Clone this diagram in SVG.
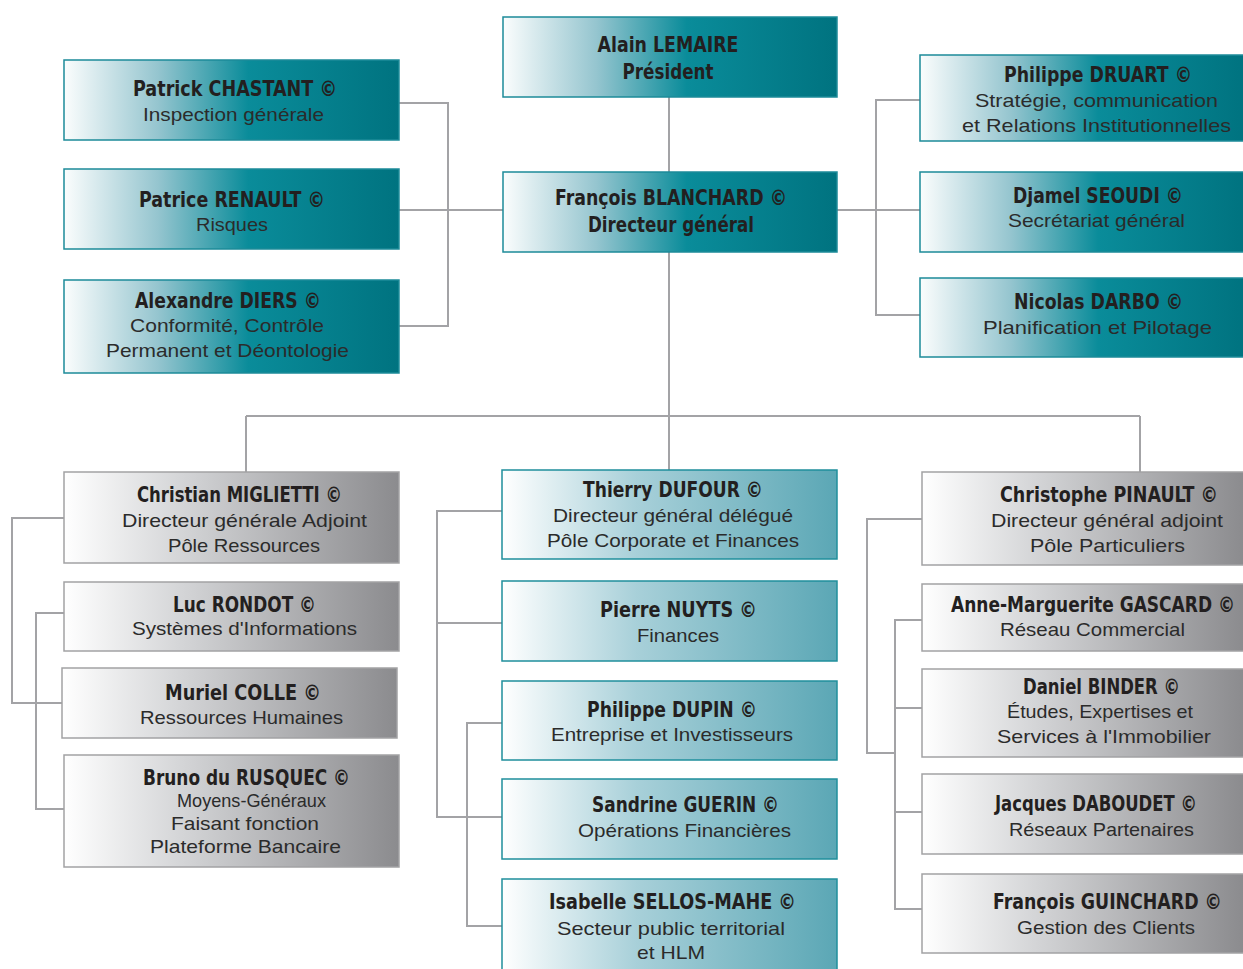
<svg xmlns="http://www.w3.org/2000/svg" width="1243" height="969" viewBox="0 0 1243 969">
  <defs>
    <linearGradient id="gDark" x1="0" y1="0" x2="1" y2="0">
      <stop offset="0" stop-color="#fbfdfd"/>
      <stop offset="0.28" stop-color="#95c5cf"/>
      <stop offset="0.55" stop-color="#0a8c9a"/>
      <stop offset="1" stop-color="#007380"/>
    </linearGradient>
    <linearGradient id="gLight" x1="0" y1="0" x2="1" y2="0">
      <stop offset="0" stop-color="#ffffff"/>
      <stop offset="0.4" stop-color="#a8d0d9"/>
      <stop offset="1" stop-color="#5ba7b5"/>
    </linearGradient>
    <linearGradient id="gGray" x1="0" y1="0" x2="1" y2="0">
      <stop offset="0" stop-color="#ffffff"/>
      <stop offset="0.35" stop-color="#d4d5d7"/>
      <stop offset="1" stop-color="#8b8b8e"/>
    </linearGradient>
    <style>
      .dark { fill: url(#gDark); stroke: #1d8b99; stroke-width: 1.5; }
      .light { fill: url(#gLight); stroke: #1f8f9c; stroke-width: 1.5; }
      .gray { fill: url(#gGray); stroke: #a2a2a4; stroke-width: 1.5; }
      .name { font-family: "Liberation Sans Narrow", "DejaVu Sans Condensed", "Liberation Sans", sans-serif; font-weight: bold; font-size: 22px; fill: #231f20; text-anchor: middle; }
      .sub { font-family: "Liberation Sans", "DejaVu Sans", sans-serif; font-size: 19px; fill: #2b2b2b; text-anchor: middle; }
      .links path { fill: none; stroke: #a3a3a6; stroke-width: 2; }
    </style>
  </defs>

  <rect width="1243" height="969" fill="#ffffff"/>

  <!-- connectors -->
  <g class="links">
    <path d="M669 97 V172"/>
    <path d="M669 252 V416"/>
    <path d="M246 416 H1140"/>
    <path d="M246 416 V472 M669 416 V470 M1140 416 V472"/>
    <path d="M399 103 H448 V326 H399 M399 210 H503"/>
    <path d="M920 100 H876 V315 H920 M837 210 H920"/>
    <path d="M64 518 H12 V703 H62 M64 613 H36 V809 H64"/>
    <path d="M502 511 H437 V817 H502 M437 623 H502 M502 723 H467 V926 H502"/>
    <path d="M922 519 H867 V753 H895 M922 620 H895 V909 H922 M895 708 H922 M895 812 H922"/>
  </g>

  <!-- top row -->
  <g id="lemaire">
    <rect class="dark" x="503" y="17" width="334" height="80"/>
    <text class="name" x="668" y="52" textLength="141" lengthAdjust="spacingAndGlyphs">Alain LEMAIRE</text>
    <text class="name" x="668" y="79" textLength="91" lengthAdjust="spacingAndGlyphs">Président</text>
  </g>
  <g id="blanchard">
    <rect class="dark" x="503" y="172" width="334" height="80"/>
    <text class="name" x="671" y="205" textLength="232" lengthAdjust="spacingAndGlyphs">François BLANCHARD ©</text>
    <text class="name" x="671" y="232" textLength="166" lengthAdjust="spacingAndGlyphs">Directeur général</text>
  </g>

  <g id="chastant">
    <rect class="dark" x="64" y="60" width="335" height="80"/>
    <text class="name" x="235" y="96" textLength="204" lengthAdjust="spacingAndGlyphs">Patrick CHASTANT ©</text>
    <text class="sub" x="233.5" y="121" textLength="181" lengthAdjust="spacingAndGlyphs">Inspection générale</text>
  </g>
  <g id="renault">
    <rect class="dark" x="64" y="169" width="335" height="80"/>
    <text class="name" x="232" y="207" textLength="186" lengthAdjust="spacingAndGlyphs">Patrice RENAULT ©</text>
    <text class="sub" x="232" y="231" textLength="72" lengthAdjust="spacingAndGlyphs">Risques</text>
  </g>
  <g id="diers">
    <rect class="dark" x="64" y="280" width="335" height="93"/>
    <text class="name" x="228" y="308" textLength="186" lengthAdjust="spacingAndGlyphs">Alexandre DIERS ©</text>
    <text class="sub" x="227" y="332" textLength="194" lengthAdjust="spacingAndGlyphs">Conformité, Contrôle</text>
    <text class="sub" x="227.5" y="357" textLength="243" lengthAdjust="spacingAndGlyphs">Permanent et Déontologie</text>
  </g>

  <g id="druart">
    <rect class="dark" x="920" y="55" width="324" height="86"/>
    <text class="name" x="1098" y="82" textLength="188" lengthAdjust="spacingAndGlyphs">Philippe DRUART ©</text>
    <text class="sub" x="1096.5" y="107" textLength="243" lengthAdjust="spacingAndGlyphs">Stratégie, communication</text>
    <text class="sub" x="1096.5" y="132" textLength="269" lengthAdjust="spacingAndGlyphs">et Relations Institutionnelles</text>
  </g>
  <g id="seoudi">
    <rect class="dark" x="920" y="172" width="324" height="80"/>
    <text class="name" x="1098" y="203" textLength="170" lengthAdjust="spacingAndGlyphs">Djamel SEOUDI ©</text>
    <text class="sub" x="1096.5" y="227" textLength="177" lengthAdjust="spacingAndGlyphs">Secrétariat général</text>
  </g>
  <g id="darbo">
    <rect class="dark" x="920" y="278" width="324" height="79"/>
    <text class="name" x="1098.5" y="309" textLength="169" lengthAdjust="spacingAndGlyphs">Nicolas DARBO ©</text>
    <text class="sub" x="1097.5" y="334" textLength="229" lengthAdjust="spacingAndGlyphs">Planification et Pilotage</text>
  </g>

  <!-- left column -->
  <g id="miglietti">
    <rect class="gray" x="64" y="472" width="335" height="91"/>
    <text class="name" x="239.5" y="502" textLength="205" lengthAdjust="spacingAndGlyphs">Christian MIGLIETTI ©</text>
    <text class="sub" x="244.5" y="527" textLength="245" lengthAdjust="spacingAndGlyphs">Directeur générale Adjoint</text>
    <text class="sub" x="244" y="552" textLength="152" lengthAdjust="spacingAndGlyphs">Pôle Ressources</text>
  </g>
  <g id="rondot">
    <rect class="gray" x="64" y="582" width="335" height="69"/>
    <text class="name" x="244.5" y="612" textLength="143" lengthAdjust="spacingAndGlyphs">Luc RONDOT ©</text>
    <text class="sub" x="244.5" y="635" textLength="225" lengthAdjust="spacingAndGlyphs">Systèmes d'Informations</text>
  </g>
  <g id="colle">
    <rect class="gray" x="62" y="668" width="335" height="70"/>
    <text class="name" x="243" y="700" textLength="156" lengthAdjust="spacingAndGlyphs">Muriel COLLE ©</text>
    <text class="sub" x="241.5" y="724" textLength="203" lengthAdjust="spacingAndGlyphs">Ressources Humaines</text>
  </g>
  <g id="rusquec">
    <rect class="gray" x="64" y="755" width="335" height="112"/>
    <text class="name" x="246.5" y="785" textLength="207" lengthAdjust="spacingAndGlyphs">Bruno du RUSQUEC ©</text>
    <text class="sub" x="251.5" y="807" textLength="149" lengthAdjust="spacingAndGlyphs">Moyens-Généraux</text>
    <text class="sub" x="245" y="830" textLength="148" lengthAdjust="spacingAndGlyphs">Faisant fonction</text>
    <text class="sub" x="245.5" y="853" textLength="191" lengthAdjust="spacingAndGlyphs">Plateforme Bancaire</text>
  </g>

  <!-- middle column -->
  <g id="dufour">
    <rect class="light" x="502" y="470" width="335" height="89"/>
    <text class="name" x="673" y="497" textLength="180" lengthAdjust="spacingAndGlyphs">Thierry DUFOUR ©</text>
    <text class="sub" x="673" y="522" textLength="240" lengthAdjust="spacingAndGlyphs">Directeur général délégué</text>
    <text class="sub" x="673" y="547" textLength="252" lengthAdjust="spacingAndGlyphs">Pôle Corporate et Finances</text>
  </g>
  <g id="nuyts">
    <rect class="light" x="502" y="581" width="335" height="80"/>
    <text class="name" x="678.5" y="617" textLength="157" lengthAdjust="spacingAndGlyphs">Pierre NUYTS ©</text>
    <text class="sub" x="678" y="642" textLength="82" lengthAdjust="spacingAndGlyphs">Finances</text>
  </g>
  <g id="dupin">
    <rect class="light" x="502" y="681" width="335" height="79"/>
    <text class="name" x="672" y="717" textLength="170" lengthAdjust="spacingAndGlyphs">Philippe DUPIN ©</text>
    <text class="sub" x="672" y="741" textLength="242" lengthAdjust="spacingAndGlyphs">Entreprise et Investisseurs</text>
  </g>
  <g id="guerin">
    <rect class="light" x="502" y="779" width="335" height="80"/>
    <text class="name" x="685.5" y="812" textLength="187" lengthAdjust="spacingAndGlyphs">Sandrine GUERIN ©</text>
    <text class="sub" x="684.5" y="837" textLength="213" lengthAdjust="spacingAndGlyphs">Opérations Financières</text>
  </g>
  <g id="sellos-mahe">
    <rect class="light" x="502" y="879" width="335" height="96"/>
    <text class="name" x="672.5" y="909" textLength="247" lengthAdjust="spacingAndGlyphs">Isabelle SELLOS-MAHE ©</text>
    <text class="sub" x="671" y="935" textLength="228" lengthAdjust="spacingAndGlyphs">Secteur public territorial</text>
    <text class="sub" x="671" y="959" textLength="68" lengthAdjust="spacingAndGlyphs">et HLM</text>
  </g>

  <!-- right column -->
  <g id="pinault">
    <rect class="gray" x="922" y="472" width="322" height="93"/>
    <text class="name" x="1109" y="502" textLength="218" lengthAdjust="spacingAndGlyphs">Christophe PINAULT ©</text>
    <text class="sub" x="1107" y="527" textLength="232" lengthAdjust="spacingAndGlyphs">Directeur général adjoint</text>
    <text class="sub" x="1107.5" y="552" textLength="155" lengthAdjust="spacingAndGlyphs">Pôle Particuliers</text>
  </g>
  <g id="gascard">
    <rect class="gray" x="922" y="584" width="322" height="67"/>
    <text class="name" x="1093" y="612" textLength="284" lengthAdjust="spacingAndGlyphs">Anne-Marguerite GASCARD ©</text>
    <text class="sub" x="1092.5" y="636" textLength="185" lengthAdjust="spacingAndGlyphs">Réseau Commercial</text>
  </g>
  <g id="binder">
    <rect class="gray" x="922" y="669" width="322" height="88"/>
    <text class="name" x="1101.5" y="694" textLength="157" lengthAdjust="spacingAndGlyphs">Daniel BINDER ©</text>
    <text class="sub" x="1100" y="718" textLength="186" lengthAdjust="spacingAndGlyphs">Études, Expertises et</text>
    <text class="sub" x="1104" y="743" textLength="214" lengthAdjust="spacingAndGlyphs">Services à l'Immobilier</text>
  </g>
  <g id="daboudet">
    <rect class="gray" x="922" y="774" width="322" height="80"/>
    <text class="name" x="1096" y="811" textLength="202" lengthAdjust="spacingAndGlyphs">Jacques DABOUDET ©</text>
    <text class="sub" x="1101.5" y="836" textLength="185" lengthAdjust="spacingAndGlyphs">Réseaux Partenaires</text>
  </g>
  <g id="guinchard">
    <rect class="gray" x="922" y="874" width="322" height="79"/>
    <text class="name" x="1107.5" y="909" textLength="229" lengthAdjust="spacingAndGlyphs">François GUINCHARD ©</text>
    <text class="sub" x="1106" y="934" textLength="178" lengthAdjust="spacingAndGlyphs">Gestion des Clients</text>
  </g>
</svg>
